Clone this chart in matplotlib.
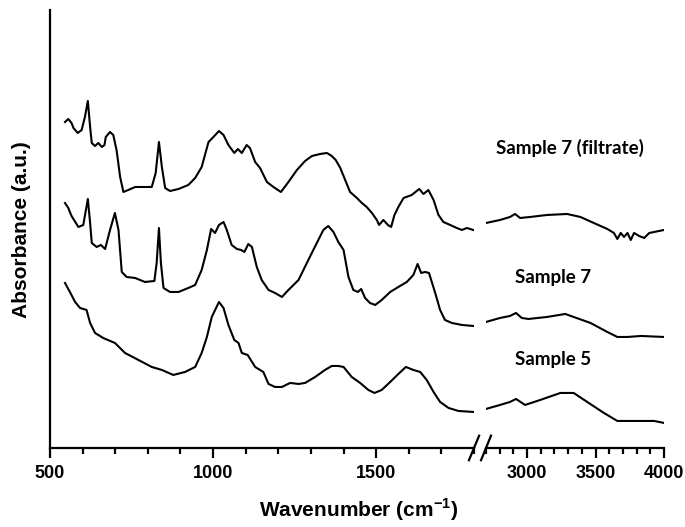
import matplotlib.pyplot as plt
from matplotlib.ticker import MultipleLocator

# wavenumbers (cm-1) and absorbance (a.u., stacked)
wn_low_s7f = [546, 556, 566, 572, 585, 597, 607, 616, 623, 628, 638, 648, 659, 667, 671, 684, 694, 704,
              715, 725, 740, 761, 786, 812, 824, 834, 843, 853, 868, 894, 924, 945, 965, 986, 1001,
              1018, 1032, 1047, 1065, 1076, 1088, 1103, 1113, 1129, 1144, 1165, 1185, 1208, 1231,
              1257, 1282, 1303, 1328, 1349, 1364, 1376, 1390, 1420, 1441, 1456, 1471, 1487, 1502,
              1509, 1522, 1536, 1546, 1556, 1568, 1584, 1609, 1632, 1645, 1660, 1676, 1691, 1706,
              1727, 1747, 1763, 1778, 1798]
ab_low_s7f = [3.26, 3.29, 3.25, 3.20, 3.15, 3.18, 3.31, 3.47, 3.21, 3.05, 3.02, 3.05, 3.01, 3.03, 3.11,
              3.16, 3.13, 2.98, 2.71, 2.56, 2.58, 2.61, 2.61, 2.61, 2.75, 3.06, 2.81, 2.60, 2.57, 2.59,
              2.63, 2.70, 2.81, 3.06, 3.11, 3.17, 3.13, 3.03, 2.95, 2.99, 2.95, 3.03, 3.00, 2.86, 2.80,
              2.66, 2.61, 2.56, 2.66, 2.78, 2.87, 2.92, 2.94, 2.95, 2.92, 2.88, 2.80, 2.56, 2.50, 2.45,
              2.41, 2.35, 2.28, 2.23, 2.28, 2.23, 2.21, 2.33, 2.41, 2.50, 2.53, 2.59, 2.54, 2.58, 2.48,
              2.33, 2.26, 2.23, 2.20, 2.18, 2.20, 2.18]
wn_high_s7f = [2700, 2802, 2875, 2912, 2949, 3022, 3145, 3292, 3390, 3487, 3586, 3634, 3659, 3684,
               3708, 3733, 3757, 3781, 3818, 3855, 3892, 3928, 4000]
ab_high_s7f = [2.25, 2.28, 2.31, 2.34, 2.30, 2.31, 2.33, 2.34, 2.31, 2.25, 2.19, 2.15, 2.09, 2.15,
               2.11, 2.15, 2.08, 2.15, 2.12, 2.10, 2.15, 2.16, 2.18]

wn_low_s7 = [546, 556, 566, 587, 602, 616, 623, 628, 643, 656, 669, 684, 699, 710, 720, 735, 761, 791,
             820, 827, 834, 840, 848, 868, 894, 924, 945, 965, 981, 994, 1006, 1018, 1032, 1042, 1057,
             1073, 1086, 1096, 1108, 1119, 1134, 1149, 1170, 1190, 1211, 1231, 1262, 1292, 1318, 1338,
             1353, 1369, 1384, 1400, 1415, 1430, 1444, 1454, 1466, 1481, 1497, 1517, 1543, 1568, 1594,
             1614, 1627, 1638, 1650, 1662, 1681, 1696, 1711, 1732, 1763, 1798]
ab_low_s7 = [2.45, 2.40, 2.32, 2.21, 2.23, 2.49, 2.25, 2.05, 2.01, 2.03, 1.99, 2.18, 2.35, 2.18, 1.76,
             1.71, 1.70, 1.66, 1.67, 1.85, 2.20, 1.85, 1.60, 1.56, 1.56, 1.60, 1.63, 1.78, 1.98, 2.19,
             2.15, 2.23, 2.26, 2.18, 2.03, 1.99, 1.98, 1.96, 2.04, 2.01, 1.81, 1.68, 1.58, 1.55, 1.51,
             1.58, 1.68, 1.88, 2.05, 2.18, 2.22, 2.16, 2.06, 1.98, 1.71, 1.58, 1.56, 1.59, 1.50, 1.45,
             1.43, 1.48, 1.56, 1.61, 1.66, 1.73, 1.84, 1.75, 1.76, 1.75, 1.55, 1.38, 1.28, 1.25, 1.23,
             1.22]
wn_high_s7 = [2700, 2802, 2875, 2919, 2961, 3010, 3145, 3279, 3340, 3463, 3586, 3659, 3733, 3831, 4000]
ab_high_s7 = [1.26, 1.30, 1.32, 1.35, 1.30, 1.29, 1.31, 1.34, 1.31, 1.25, 1.16, 1.11, 1.11, 1.12, 1.11]

wn_low_s5 = [546, 561, 577, 592, 612, 623, 638, 663, 699, 730, 771, 812, 843, 878, 914, 945, 965, 981,
             996, 1018, 1032, 1047, 1065, 1078, 1088, 1106, 1129, 1154, 1170, 1190, 1211, 1236, 1262,
             1282, 1313, 1343, 1364, 1384, 1400, 1425, 1451, 1476, 1495, 1517, 1543, 1568, 1591, 1614,
             1635, 1655, 1676, 1696, 1722, 1752, 1798]
ab_low_s5 = [1.65, 1.56, 1.46, 1.40, 1.38, 1.25, 1.15, 1.10, 1.05, 0.95, 0.88, 0.81, 0.78, 0.73, 0.76,
             0.81, 0.95, 1.11, 1.31, 1.46, 1.40, 1.23, 1.08, 1.05, 0.95, 0.93, 0.81, 0.76, 0.64, 0.61,
             0.61, 0.65, 0.64, 0.65, 0.71, 0.78, 0.82, 0.82, 0.81, 0.71, 0.65, 0.58, 0.55, 0.58, 0.66,
             0.74, 0.81, 0.78, 0.76, 0.68, 0.56, 0.46, 0.40, 0.37, 0.36]
wn_high_s5 = [2700, 2802, 2875, 2919, 2985, 3096, 3243, 3340, 3439, 3561, 3659, 3781, 3928, 4000]
ab_high_s5 = [0.39, 0.43, 0.46, 0.49, 0.43, 0.48, 0.55, 0.55, 0.46, 0.35, 0.27, 0.27, 0.27, 0.25]

labels = ["Sample 7 (filtrate)", "Sample 7", "Sample 5"]
label_x = [3316, 3191, 3191]
label_y = [3.00, 1.70, 0.88]

fig = plt.figure(figsize=(6.85, 5.27), dpi=100)
ax1 = fig.add_axes([0.073, 0.150, 0.619, 0.831])
ax2 = fig.add_axes([0.7095, 0.150, 0.2599, 0.831])

for ax in (ax1, ax2):
    ax.spines['top'].set_visible(False)
    ax.spines['right'].set_visible(False)
    ax.spines['bottom'].set_linewidth(1.6)
    ax.set_ylim(0, 4.38)
    ax.set_yticks([])
    ax.tick_params(axis='x', which='major', direction='out', length=7, width=1.6, pad=5)
    ax.tick_params(axis='x', which='minor', direction='out', length=4, width=1.6)
ax1.spines['left'].set_linewidth(1.6)
ax2.spines['left'].set_visible(False)

ax1.plot(wn_low_s7f, ab_low_s7f, color='black', lw=1.5)
ax1.plot(wn_low_s7, ab_low_s7, color='black', lw=1.5)
ax1.plot(wn_low_s5, ab_low_s5, color='black', lw=1.5)
ax2.plot(wn_high_s7f, ab_high_s7f, color='black', lw=1.5)
ax2.plot(wn_high_s7, ab_high_s7, color='black', lw=1.5)
ax2.plot(wn_high_s5, ab_high_s5, color='black', lw=1.5)

ax1.set_xlim(500, 1800)
ax1.set_xticks([500, 1000, 1500])
ax1.xaxis.set_minor_locator(MultipleLocator(100))
ax2.set_xlim(2700, 4000)
ax2.set_xticks([3000, 3500, 4000])
ax2.xaxis.set_minor_locator(MultipleLocator(100))

for ax in (ax1, ax2):
    for lab in ax.get_xticklabels():
        lab.set_fontfamily('Liberation Sans')
        lab.set_fontweight('bold')
        lab.set_fontsize(13)

# axis break marks "//"
kw = dict(color='black', lw=1.6, clip_on=False)
ax1.plot([1 - 0.012, 1 + 0.012], [-0.028, 0.028], transform=ax1.transAxes, **kw)
ax2.plot([-0.028, 0.028], [-0.028, 0.028], transform=ax2.transAxes, **kw)

for lab, x, y in zip(labels, label_x, label_y):
    ax2.text(x, y, lab, fontsize=13.5, fontweight='bold', fontfamily='Lato',
             ha='center', va='center', clip_on=False)

fig.text(0.032, 0.565, "Absorbance (a.u.)", rotation=90, ha='center', va='center',
         fontsize=15, fontweight='bold', fontfamily='Liberation Sans')
fig.text(0.523, 0.032, "Wavenumber (cm$^{\\mathregular{-1}}$)", ha='center', va='center',
         fontsize=15, fontweight='bold', fontfamily='Liberation Sans')

plt.savefig('out.png', dpi=100)
